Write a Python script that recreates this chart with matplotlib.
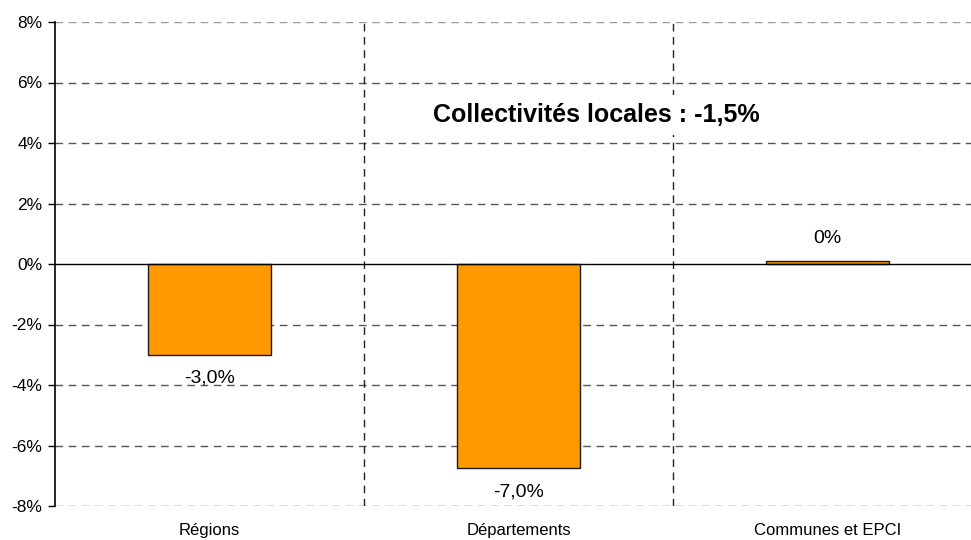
import matplotlib
matplotlib.use("Agg")
import matplotlib.pyplot as plt
import numpy as np

categories = ["Régions", "Départements", "Communes et EPCI"]
values = [-3.0, -6.75, 0.1]
value_labels = ["-3,0%", "-7,0%", "0%"]
yticks = [-8, -6, -4, -2, 0, 2, 4, 6, 8]
title_text = "Collectivités locales : -1,5%"

plt.rcParams['font.family'] = ['Liberation Sans', 'DejaVu Sans']

fig = plt.figure(figsize=(9.71, 5.40), dpi=100)
ax = fig.add_axes([55/971, 1-506/540, 927/971, (506-22)/540])

x = np.arange(len(categories))
ax.bar(x, values, width=0.4, color="#FF9900", edgecolor="#1a1a1a", linewidth=1.0, zorder=3)

ax.set_xlim(-0.5, len(categories) - 0.5)
ax.set_ylim(-8, 8)

dash = (0, (5.5, 4))
# horizontal grid
for t in yticks:
    if t == 0:
        ax.axhline(0, color="black", linewidth=1.0, zorder=4)
    elif t == 8:
        ax.axhline(t, color="#999999", linewidth=1.0, linestyle=dash, zorder=1)
    else:
        ax.axhline(t, color="#555555", linewidth=1.0, linestyle=dash, zorder=1)

# vertical separators
for b in x[:-1] + 0.5:
    ax.axvline(b, color="#222222", linewidth=1.0, linestyle=dash, zorder=1)

ax.set_yticks(yticks)
ax.set_yticklabels([f"{t}%" for t in yticks], fontsize=12.5)
ax.set_xticks(x)
ax.set_xticklabels(categories, fontsize=12)
ax.tick_params(axis='x', length=0, pad=12)
ax.tick_params(axis='y', length=5, width=1, direction='out', pad=4)

for s in ["top", "right", "bottom"]:
    ax.spines[s].set_visible(False)
ax.spines["left"].set_linewidth(1.2)
ax.spines["left"].set_zorder(5)

for xi, v, lab in zip(x, values, value_labels):
    if v < 0:
        ax.annotate(lab, (xi, v), xytext=(0, -17), textcoords="offset points",
                    ha="center", va="center", fontsize=14, zorder=6)
    else:
        ax.annotate(lab, (xi, v), xytext=(0, 16), textcoords="offset points",
                    ha="center", va="center", fontsize=14, zorder=6)

fig.text(596/971, 1-115/540, title_text, ha="center", va="center",
         fontsize=18, fontweight="bold", zorder=10,
         bbox=dict(facecolor="white", edgecolor="none", pad=6))

fig.savefig("out.png", dpi=100)
